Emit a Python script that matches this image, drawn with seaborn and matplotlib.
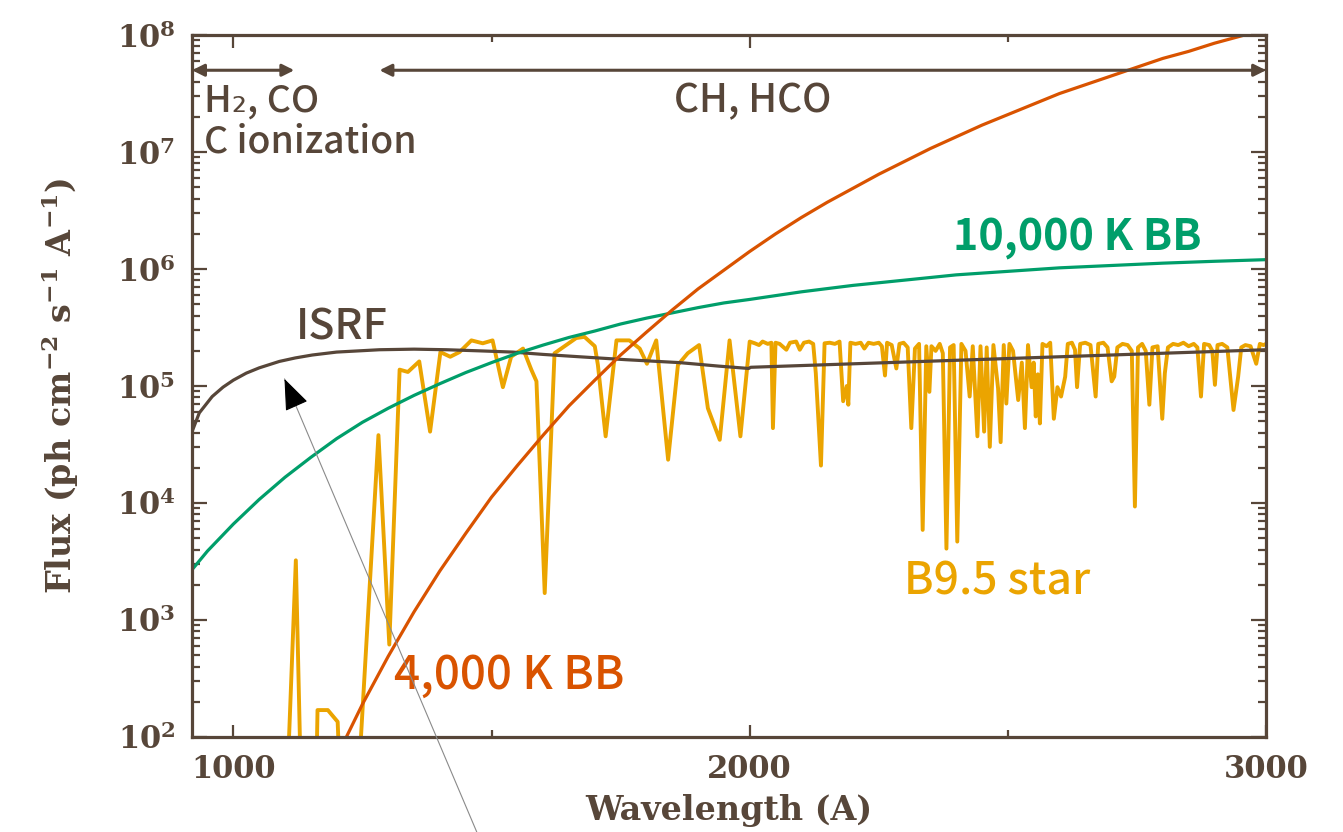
#!/usr/bin/env python3
"""UV radiation fields: ISRF, a B9.5 star spectrum and two blackbodies.

Values are read off the reference figure (log10 of the photon flux).
"""

from __future__ import annotations

import matplotlib

matplotlib.use("Agg")
import matplotlib.pyplot as plt
import numpy as np
import pandas as pd
import seaborn as sns
from matplotlib.ticker import FixedLocator, LogLocator, NullFormatter

BROWN = "#574639"
GREEN = "#009E6A"
VERMILION = "#D95300"
AMBER = "#EBA400"

# Interstellar radiation field
ISRF_WL = [920, 934, 959, 980, 1000, 1025, 1050, 1089, 1120, 1153, 1200, 1283,
           1350, 1413, 1480, 1541, 1600, 1670, 1760, 1864, 1940, 1998, 2002, 3000]
ISRF_LOGF = [4.61, 4.77, 4.91, 4.99, 5.05, 5.11, 5.155, 5.21, 5.24, 5.265, 5.29, 5.31,
             5.315, 5.31, 5.30, 5.29, 5.27, 5.25, 5.225, 5.20, 5.17, 5.15, 5.16, 5.31]

# 10,000 K blackbody
BB10K_WL = [920, 950, 1000, 1050, 1100, 1150, 1200, 1250, 1300, 1350, 1400, 1450,
            1500, 1550, 1600, 1650, 1700, 1750, 1800, 1850, 1900, 1950, 2000, 2100,
            2200, 2300, 2400, 2500, 2600, 2700, 2800, 2900, 3000]
BB10K_LOGF = [3.43, 3.59, 3.82, 4.03, 4.22, 4.39, 4.55, 4.69, 4.81, 4.92, 5.02, 5.115,
              5.20, 5.28, 5.35, 5.415, 5.47, 5.53, 5.58, 5.625, 5.67, 5.71, 5.74, 5.805,
              5.86, 5.905, 5.95, 5.98, 6.01, 6.03, 6.05, 6.066, 6.08]

# 4,000 K blackbody
BB4K_WL = [1200, 1250, 1300, 1350, 1400, 1450, 1500, 1550, 1600, 1650, 1700, 1750,
           1800, 1850, 1900, 1950, 2000, 2050, 2100, 2150, 2200, 2250, 2300, 2350,
           2400, 2450, 2500, 2550, 2600, 2650, 2700, 2750, 2800, 2850, 2900, 2950, 3000]
BB4K_LOGF = [1.83, 2.28, 2.69, 3.07, 3.42, 3.74, 4.05, 4.32, 4.58, 4.83, 5.05, 5.265,
             5.46, 5.65, 5.83, 5.99, 6.15, 6.30, 6.44, 6.57, 6.69, 6.81, 6.92, 7.03,
             7.13, 7.23, 7.32, 7.41, 7.50, 7.575, 7.65, 7.725, 7.80, 7.86, 7.93, 7.99, 8.05]

# B9.5 star model spectrum (values below 1e2 sit off the axis)
STAR_WL = [
    1100, 1107, 1121, 1134, 1158, 1163, 1183, 1202, 1212, 1234,
    1281, 1302, 1322, 1338, 1360, 1381, 1401, 1420, 1438, 1461,
    1483, 1502, 1522, 1538, 1561, 1577, 1587, 1603, 1622, 1664,
    1680, 1700, 1706, 1721, 1742, 1767, 1787, 1801, 1819, 1842,
    1861, 1880, 1902, 1919, 1942, 1961, 1982, 2000, 2010, 2018,
    2025, 2035, 2042, 2045, 2050, 2058, 2071, 2078, 2090, 2097,
    2105, 2115, 2123, 2128, 2138, 2145, 2155, 2165, 2174, 2181,
    2188, 2191, 2195, 2205, 2215, 2222, 2230, 2240, 2250, 2256,
    2262, 2266, 2275, 2284, 2290, 2298, 2306, 2313, 2320, 2328,
    2335, 2342, 2348, 2352, 2360, 2368, 2374, 2381, 2388, 2395,
    2402, 2410, 2418, 2426, 2432, 2441, 2447, 2454, 2459, 2465,
    2472, 2481, 2486, 2492, 2497, 2503, 2510, 2520, 2527, 2533,
    2539, 2546, 2550, 2554, 2558, 2562, 2567, 2575, 2582, 2589,
    2596, 2603, 2611, 2616, 2624, 2630, 2634, 2640, 2650, 2660,
    2670, 2675, 2685, 2693, 2701, 2706, 2712, 2722, 2732, 2740,
    2746, 2752, 2760, 2767, 2774, 2780, 2790, 2799, 2804, 2810,
    2820, 2830, 2840, 2850, 2860, 2867, 2874, 2880, 2890, 2896,
    2901, 2906, 2915, 2925, 2937, 2946, 2952, 2960, 2970, 2981,
    2988, 2995, 3000,
]
STAR_LOGF = [
    1.00, 1.90, 3.51, 1.00, 1.00, 2.23, 2.23, 2.13, 1.00, 1.00,
    4.58, 2.79, 5.14, 5.12, 5.21, 4.61, 5.29, 5.25, 5.29, 5.39,
    5.365, 5.39, 4.99, 5.25, 5.32, 5.14, 5.04, 3.23, 5.28, 5.41,
    5.42, 5.34, 5.18, 4.57, 5.39, 5.39, 5.32, 5.19, 5.39, 4.37,
    5.18, 5.28, 5.35, 4.81, 4.54, 5.39, 4.57, 5.38, 5.365, 5.35,
    5.38, 5.36, 5.37, 4.64, 5.37, 5.36, 5.31, 5.37, 5.38, 5.31,
    5.37, 5.38, 5.36, 5.11, 4.32, 5.365, 5.37, 5.36, 5.38, 4.87,
    5.00, 4.84, 5.37, 5.36, 5.37, 5.32, 5.37, 5.36, 5.37, 5.34,
    5.09, 5.37, 5.35, 5.15, 5.36, 5.37, 5.33, 4.64, 5.32, 5.36,
    3.77, 5.34, 4.95, 5.34, 5.30, 5.36, 5.28, 3.61, 5.33, 5.35,
    3.67, 5.36, 5.30, 4.91, 5.34, 4.57, 5.34, 4.61, 5.33, 4.48,
    5.35, 4.98, 4.52, 5.35, 4.85, 5.36, 5.30, 4.88, 5.20, 4.64,
    5.35, 4.99, 5.20, 4.74, 5.10, 4.68, 5.36, 5.34, 5.37, 4.72,
    4.99, 4.91, 5.08, 5.36, 5.37, 5.31, 4.99, 5.36, 5.37, 5.35,
    4.91, 5.36, 5.37, 5.33, 5.04, 5.08, 5.33, 5.36, 5.35, 5.30,
    3.97, 5.33, 5.36, 5.30, 4.84, 5.33, 5.34, 4.72, 5.11, 5.33,
    5.36, 5.35, 5.37, 5.34, 5.36, 5.33, 4.91, 5.36, 5.35, 5.30,
    5.01, 5.35, 5.36, 5.33, 4.795, 5.08, 5.33, 5.35, 5.34, 5.19,
    5.36, 5.35, 5.36,
]

Y_EXPONENTS = [2, 3, 4, 5, 6, 7, 8]
X_TICKS = [1000, 2000, 3000]


def _frame(wl: list[float], logf: list[float]) -> pd.DataFrame:
    return pd.DataFrame({"wavelength": wl, "flux": np.power(10.0, logf)})


def _line(ax, wl, logf, color, lw):
    sns.lineplot(data=_frame(wl, logf), x="wavelength", y="flux", ax=ax,
                 color=color, linewidth=lw, estimator=None, sort=False)


def main() -> int:
    sns.set_style("ticks")
    plt.rcParams["font.family"] = ["DejaVu Serif"]
    plt.rcParams["mathtext.fontset"] = "dejavuserif"
    plt.rcParams["mathtext.default"] = "bf"

    fig = plt.figure(figsize=(13.43, 8.32), dpi=100)
    ax = fig.add_axes([0.143, 0.1142, 0.7997, 0.8437])

    _line(ax, STAR_WL, STAR_LOGF, AMBER, 2.8)
    _line(ax, ISRF_WL, ISRF_LOGF, BROWN, 2.3)
    _line(ax, BB10K_WL, BB10K_LOGF, GREEN, 2.3)
    _line(ax, BB4K_WL, BB4K_LOGF, VERMILION, 2.3)

    ax.set_yscale("log")
    ax.set_xlim(920, 3000)
    ax.set_ylim(1e2, 1e8)

    ax.xaxis.set_major_locator(FixedLocator(X_TICKS))
    ax.xaxis.set_minor_locator(FixedLocator([1500, 2500]))
    ax.set_xticklabels([str(t) for t in X_TICKS])
    ax.yaxis.set_major_locator(FixedLocator([10.0 ** e for e in Y_EXPONENTS]))
    ax.yaxis.set_minor_locator(LogLocator(base=10, subs=np.arange(2, 10)))
    ax.yaxis.set_minor_formatter(NullFormatter())
    ax.set_yticklabels([f"10$^{{{e}}}$" for e in Y_EXPONENTS])

    for side in ax.spines.values():
        side.set_color(BROWN)
        side.set_linewidth(2.3)
    ax.tick_params(which="both", direction="in", top=True, right=True,
                   color=BROWN, width=1.6, labelcolor=BROWN)
    ax.tick_params(axis="y", which="major", length=11, pad=12, labelsize=22)
    ax.tick_params(axis="y", which="minor", length=6)
    ax.tick_params(axis="x", which="major", length=9, pad=12, labelsize=22)
    ax.tick_params(axis="x", which="minor", length=5)
    for lab in ax.get_xticklabels() + ax.get_yticklabels():
        lab.set_fontweight("bold")

    ax.set_xlabel("Wavelength (A)", fontsize=24, fontweight="bold", color=BROWN, labelpad=7)
    ax.set_ylabel("Flux (ph cm$^{-2}$ s$^{-1}$ A$^{-1}$)", fontsize=24,
                  fontweight="bold", color=BROWN, labelpad=26)

    sans = ["Noto Sans CJK JP", "DejaVu Sans"]
    # photo-process ranges along the top
    arrow_kw = dict(arrowstyle="<|-|>", color=BROWN, lw=2.2, mutation_scale=18,
                    shrinkA=0, shrinkB=0)
    ax.annotate("", xy=(1118, 5.0e7), xytext=(920, 5.0e7), arrowprops=arrow_kw)
    ax.annotate("", xy=(3000, 5.0e7), xytext=(1283, 5.0e7), arrowprops=arrow_kw,
                annotation_clip=False)
    ax.text(944, 2.73e7, "H₂, CO", family=sans, fontsize=27, color=BROWN,
            fontweight="medium", ha="left", va="center")
    ax.text(944, 1.24e7, "C ionization", family=sans, fontsize=27, color=BROWN,
            fontweight="medium", ha="left", va="center")
    ax.text(2006, 2.73e7, "CH, HCO", family=sans, fontsize=28, color=BROWN,
            fontweight="medium", ha="center", va="center")

    ax.text(1211, 3.2e5, "ISRF", family=sans, fontsize=31, color=BROWN,
            fontweight="medium", ha="center", va="center")
    ax.text(2634, 1.88e6, "10,000 K BB", family=sans, fontsize=31, color=GREEN,
            fontweight="bold", ha="center", va="center")
    ax.text(1535, 3.4e2, "4,000 K BB", family=sans, fontsize=33, color=VERMILION,
            fontweight="medium", ha="center", va="center")
    ax.text(2480, 2.1e3, "B9.5 star", family=sans, fontsize=32, color=AMBER,
            fontweight="medium", ha="center", va="center")

    # pointer to the ISRF curve coming in from below the frame
    ax.annotate("", xy=(1099, 1.15e5), xytext=(0.355, 0.0), textcoords="figure fraction",
                arrowprops=dict(arrowstyle="-", color="#8a8a8a", lw=0.8,
                                shrinkA=0, shrinkB=0),
                annotation_clip=False)
    ax.annotate("", xy=(1099, 1.15e5), xytext=(0.2186, 0.52), textcoords="figure fraction",
                arrowprops=dict(arrowstyle="-|>,head_length=0.9,head_width=0.35",
                                color="black", lw=0.8, shrinkA=0, shrinkB=0,
                                mutation_scale=22),
                annotation_clip=False)

    fig.savefig("out.png", dpi=100)
    plt.close(fig)
    return 0


if __name__ == "__main__":
    raise SystemExit(main())
